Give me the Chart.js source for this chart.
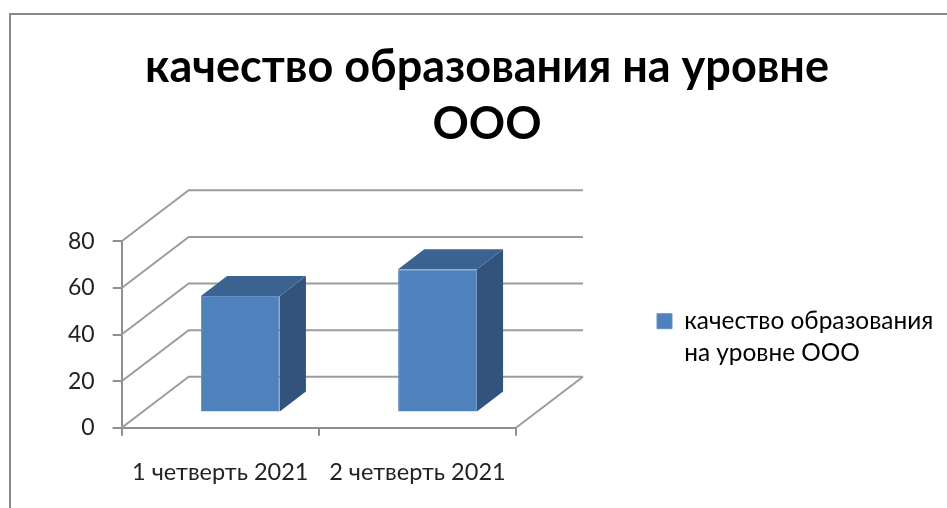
<!DOCTYPE html>
<html>
<head>
<meta charset="utf-8">
<script src="https://cdn.jsdelivr.net/npm/chart.js@4/dist/chart.umd.js"></script>
<style>
  html, body { margin: 0; padding: 0; background: #fff; overflow: hidden; }
  #wrap { position: relative; width: 947px; height: 508px; }
  #frame { position: absolute; left: 9px; top: 13px; right: 0; bottom: 0; border-left: 2px solid #8a8a8a; border-top: 2px solid #8a8a8a; }
  canvas { position: absolute; left: 0; top: 0; }
</style>
</head>
<body>
<div id="wrap">
  <div id="frame"></div>
  <canvas id="chart" width="947" height="508"></canvas>
</div>
<script>
const categories = ['1 четверть 2021', '2 четверть 2021'];
const seriesName = 'качество образования на уровне ООО';
const seriesValues = [50, 61.5];
const titleLines = ['качество образования на уровне', 'ООО'];
const legendLines = ['качество образования', 'на уровне ООО'];
const yTicks = [0, 20, 40, 60, 80];

const FONT = 'Lato, "Open Sans", sans-serif';
const DEPTH_X = 67, DEPTH_Y = -51;
const BAR_FRONT = 0.30, BAR_BACK = 0.69;

function poly(ctx, pts, color) {
  ctx.beginPath();
  pts.forEach((p, i) => i ? ctx.lineTo(p[0], p[1]) : ctx.moveTo(p[0], p[1]));
  ctx.closePath();
  ctx.fillStyle = color;
  ctx.fill();
}

// walls and floor of the 3d box, behind the bars
const walls = {
  id: 'walls',
  beforeDatasetsDraw(chart) {
    const { ctx, chartArea, scales } = chart;
    ctx.save();
    ctx.lineWidth = 2;
    ctx.strokeStyle = '#9c9c9c';
    yTicks.forEach(v => {
      const y = scales.y.getPixelForValue(v);
      ctx.beginPath();
      ctx.moveTo(chartArea.left, y);
      ctx.lineTo(chartArea.left + DEPTH_X, y + DEPTH_Y);
      ctx.lineTo(chartArea.right + DEPTH_X, y + DEPTH_Y);
      ctx.stroke();
    });
    ctx.beginPath();
    ctx.moveTo(chartArea.right, chartArea.bottom);
    ctx.lineTo(chartArea.right + DEPTH_X, chartArea.bottom + DEPTH_Y);
    ctx.stroke();
    ctx.restore();
  },
  // side and top faces, then shift so the library bar lands on the front face
  beforeDatasetDraw(chart, args) {
    const { ctx } = chart;
    const fx = DEPTH_X * BAR_FRONT, fy = DEPTH_Y * BAR_FRONT;
    const dx = DEPTH_X * (BAR_BACK - BAR_FRONT), dy = DEPTH_Y * (BAR_BACK - BAR_FRONT);
    args.meta.data.forEach(bar => {
      const l = bar.x - bar.width / 2 + fx, r = bar.x + bar.width / 2 + fx;
      const t = bar.y + fy, b = bar.base + fy;
      poly(ctx, [[r, t], [r + dx, t + dy], [r + dx, b + dy], [r, b]], '#31537c');
      poly(ctx, [[l, t], [l + dx, t + dy], [r + dx, t + dy], [r, t]], '#3b6391');
    });
    ctx.save();
    ctx.translate(fx, fy);
  },
  afterDatasetDraw(chart) {
    chart.ctx.restore();
  },
  // title and legend sit outside the plot's padded box
  afterLayout(chart) {
    const title = chart.titleBlock;
    title.left = 27;
    title.right = 947;
    const legend = chart.legend;
    const w = legend.width, h = legend.height;
    legend.left = 647;
    legend.right = legend.left + w;
    legend.top = 299;
    legend.bottom = legend.top + h;
  }
};

new Chart(document.getElementById('chart'), {
  type: 'bar',
  data: {
    labels: categories,
    datasets: [{
      label: seriesName,
      data: seriesValues,
      backgroundColor: '#4f81bd',
      borderColor: '#6690c4',
      borderWidth: 1,
      categoryPercentage: 1,
      barPercentage: 0.4
    }]
  },
  options: {
    responsive: false,
    animation: false,
    layout: { padding: { left: 50, right: 431, top: 0, bottom: -2 } },
    plugins: {
      tooltip: { enabled: false },
      title: {
        display: true,
        text: titleLines,
        color: '#000',
        font: { family: FONT, size: 45, weight: 'bold', lineHeight: 1.27 },
        padding: { top: 39, bottom: 88 }
      },
      legend: {
        position: 'chartArea',
        align: 'start',
        labels: {
          boxWidth: 15,
          boxHeight: 15,
          color: '#222',
          font: { family: FONT, size: 24.4, lineHeight: 1.3 },
          generateLabels: chart => [{
            text: legendLines,
            fillStyle: '#4f81bd',
            strokeStyle: '#6690c4',
            lineWidth: 1,
            datasetIndex: 0
          }]
        }
      }
    },
    scales: {
      x: {
        grid: { drawOnChartArea: false, color: '#8f8f8f', lineWidth: 2, tickLength: 8 },
        border: { color: '#8f8f8f', width: 2 },
        ticks: { color: '#222', font: { family: FONT, size: 23.5 }, padding: 23, maxRotation: 0 }
      },
      y: {
        min: 0,
        max: 80,
        grid: { drawOnChartArea: false, color: '#8f8f8f', lineWidth: 2, tickLength: 9 },
        border: { color: '#8f8f8f', width: 2 },
        ticks: { stepSize: 20, color: '#222', font: { family: FONT, size: 23 }, padding: 18 }
      }
    }
  },
  plugins: [walls]
});
</script>
</body>
</html>
